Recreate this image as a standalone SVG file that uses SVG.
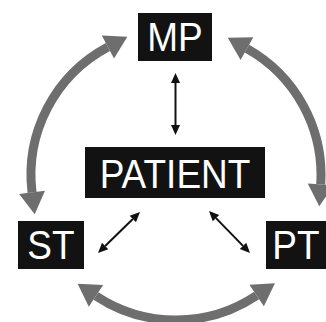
<svg xmlns="http://www.w3.org/2000/svg" width="326" height="322" viewBox="0 0 326 322">
  <style>
    .box { fill: #121212; }
    .lbl { fill: #ffffff; font-family: "Liberation Sans", Arial, sans-serif; font-size: 37px; text-anchor: middle; }
    .arc { fill: none; stroke: #6e6e6e; stroke-width: 9; marker-start: url(#gh); marker-end: url(#gh); }
    .link { fill: none; stroke: #111111; stroke-width: 2; marker-start: url(#bh); marker-end: url(#bh); }
  </style>
  <defs>
    <marker id="gh" markerUnits="userSpaceOnUse" viewBox="0 -13 22 26" markerWidth="22" markerHeight="26" refX="0" refY="0" orient="auto-start-reverse" overflow="visible">
      <path d="M0,-13 L22,0 L0,13 Z" fill="#6e6e6e"/>
    </marker>
    <marker id="bh" markerUnits="userSpaceOnUse" viewBox="0 -5 10 10" markerWidth="10" markerHeight="10" refX="0" refY="0" orient="auto-start-reverse" overflow="visible">
      <path d="M0,-4.5 L10,0 L0,4.5 Z" fill="#111111"/>
    </marker>
  </defs>
  <rect width="326" height="322" fill="#ffffff"/>
  <g id="connectors">
    <path class="arc" d="M32.05,192.42 A145,145 0 0 1 107.93,46.97"/>
    <path class="arc" d="M246.96,48.55 A145,145 0 0 1 320.70,184.36"/>
    <path class="arc" d="M256.66,295.49 A145,145 0 0 1 95.97,295.91"/>
    <path class="link" d="M175.5,83 L175.5,125"/>
    <path class="link" d="M132.84,218.98 L105.16,246.02"/>
    <path class="link" d="M215.98,218.16 L243.02,245.84"/>
  </g>
  <g id="node-mp">
    <rect class="box" x="138" y="13" width="74" height="48"/>
    <text class="lbl" transform="translate(175,51) scale(1,1.1)">MP</text>
  </g>
  <g id="node-patient">
    <rect class="box" x="85" y="147" width="180" height="51"/>
    <text class="lbl" transform="translate(175,188) scale(1,1.1)">PATIENT</text>
  </g>
  <g id="node-st">
    <rect class="box" x="18" y="221" width="66" height="48"/>
    <text class="lbl" transform="translate(51,259) scale(1,1.1)">ST</text>
  </g>
  <g id="node-pt">
    <rect class="box" x="266" y="221" width="60" height="48"/>
    <text class="lbl" transform="translate(296,259) scale(1,1.1)">PT</text>
  </g>
</svg>
